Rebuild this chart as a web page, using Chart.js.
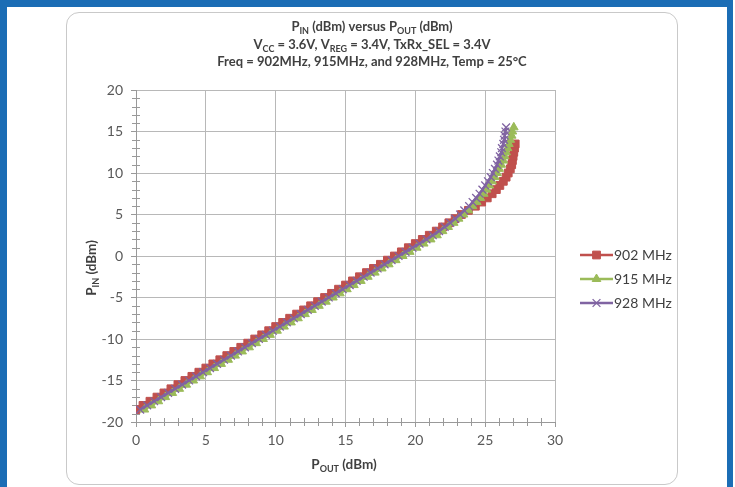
<!DOCTYPE html>
<html>
<head>
<meta charset="utf-8">
<title>PIN versus POUT</title>
<script src="https://cdn.jsdelivr.net/npm/chart.js@4.4.0/dist/chart.umd.min.js"></script>
<style>
  body { margin: 0; background: #fff; }
  .page { position: relative; width: 735px; height: 487px; overflow: hidden; background: #fff; }
  .frame { position: absolute; left: 0; top: 0; width: 720px; height: 500px;
           border-left: 7px solid #1b6db5; border-top: 7px solid #1b6db5; border-right: 6px solid #1b6db5; }
  .card { position: absolute; left: 66px; top: 12px; width: 610px; height: 471px;
          border: 1.5px solid #c9c9c9; border-radius: 13px; }
  canvas { position: absolute; left: 0; top: 0; }
</style>
</head>
<body>
<div class="page">
  <div class="frame"></div>
  <div class="card"></div>
  <canvas id="chart" width="735" height="487"></canvas>
</div>
<script>
// Input power steps (dBm), shared by all three sweeps
const pinValues = [
  -18.5, -18, -17.5, -17, -16.5, -16, -15.5, -15, -14.5, -14,
  -13.5, -13, -12.5, -12, -11.5, -11, -10.5, -10, -9.5, -9,
  -8.5, -8, -7.5, -7, -6.5, -6, -5.5, -5, -4.5, -4,
  -3.5, -3, -2.5, -2, -1.5, -1, -0.5, 0, 0.5, 1,
  1.5, 2, 2.5, 3, 3.5, 4, 4.5, 5, 5.5, 6,
  6.5, 7, 7.5, 8, 8.5, 9, 9.5, 10, 10.5, 11,
  11.5, 12, 12.5, 13, 13.5, 14, 14.5, 15, 15.5
];

// Output power (dBm)
const pout902 = [
  0, 0.5, 1, 1.5, 2, 2.5, 3, 3.5, 4, 4.5,
  5, 5.5, 6, 6.5, 7, 7.5, 8, 8.5, 9, 9.5,
  10, 10.5, 11, 11.5, 12, 12.5, 13, 13.5, 14, 14.5,
  15, 15.5, 16, 16.5, 17, 17.5, 18, 18.5, 19, 19.5,
  20, 20.5, 21.0, 21.5, 21.95, 22.4, 22.85, 23.3, 23.8, 24.3,
  24.75, 25.15, 25.5, 25.8, 26.05, 26.3, 26.5, 26.65, 26.8, 26.9,
  26.95, 27.0, 27.05, 27.1, 27.15
];
const pout915 = [
  0.6, 1.1, 1.6, 2.1, 2.6, 3.1, 3.6, 4.1, 4.6, 5.1,
  5.6, 6.1, 6.6, 7.1, 7.6, 8.1, 8.6, 9.1, 9.6, 10.1,
  10.6, 11.1, 11.6, 12.1, 12.6, 13.1, 13.6, 14.1, 14.6, 15.1,
  15.6, 16.1, 16.6, 17.1, 17.6, 18.1, 18.6, 19.1, 19.6, 20.1,
  20.6, 21.1, 21.55, 21.95, 22.35, 22.75, 23.1, 23.45, 23.8, 24.1,
  24.4, 24.65, 24.9, 25.1, 25.3, 25.5, 25.7, 25.85, 26.0, 26.15,
  26.3, 26.4, 26.5, 26.6, 26.7, 26.8, 26.9, 26.95, 27.05
];
const pout928 = [
  0.3, 0.8, 1.3, 1.8, 2.3, 2.8, 3.3, 3.8, 4.3, 4.8,
  5.3, 5.8, 6.3, 6.8, 7.3, 7.8, 8.3, 8.8, 9.3, 9.8,
  10.3, 10.8, 11.3, 11.8, 12.3, 12.8, 13.3, 13.8, 14.3, 14.8,
  15.3, 15.8, 16.3, 16.8, 17.3, 17.8, 18.3, 18.8, 19.3, 19.8,
  20.3, 20.8, 21.25, 21.7, 22.1, 22.5, 22.85, 23.2, 23.5, 23.85,
  24.1, 24.35, 24.6, 24.8, 25.0, 25.2, 25.4, 25.55, 25.7, 25.85,
  25.95, 26.05, 26.15, 26.2, 26.3, 26.35, 26.4, 26.45, 26.5
];

const seriesLabels = ['902 MHz', '915 MHz', '928 MHz'];
const xRange = [0, 30];
const yRange = [-20, 20];
const majorStep = 5;
const minorStep = 1;

const FONT = 'Lato, "Open Sans", sans-serif';
const TEXT_COLOR = '#404040';
const TICK_COLOR = '#595959';
const AXIS_COLOR = '#999999';

const seriesStyles = [
  { color: '#c0504d', pointStyle: 'rect', radius: 5.5, borderWidth: 1 },
  { color: '#9bbb59', pointStyle: 'triangle', radius: 5, borderWidth: 1 },
  { color: '#8064a2', pointStyle: 'crossRot', radius: 5.5, borderWidth: 1.3 }
];

function toPoints(pout) {
  return pout.map((x, i) => ({ x: x, y: pinValues[i] }));
}

// text with subscripts: runs = [[text, isSub], ...]
function drawRuns(ctx, runs, cx, baseline, size) {
  const main = `bold ${size}px ${FONT}`;
  const sub = `bold ${Math.round(size * 0.7)}px ${FONT}`;
  let width = 0;
  runs.forEach(([t, s]) => { ctx.font = s ? sub : main; width += ctx.measureText(t).width; });
  let x = cx - width / 2;
  ctx.textAlign = 'left';
  ctx.textBaseline = 'alphabetic';
  runs.forEach(([t, s]) => {
    ctx.font = s ? sub : main;
    ctx.fillText(t, x, baseline + (s ? 3 : 0));
    x += ctx.measureText(t).width;
  });
}

const minorTicks = {
  id: 'minorTicks',
  beforeDatasetsDraw(chart) {
    const { ctx, scales: { x, y } } = chart;
    ctx.save();
    ctx.strokeStyle = AXIS_COLOR;
    ctx.lineWidth = 1;
    for (let v = yRange[0]; v <= yRange[1]; v += minorStep) {
      if (v % majorStep === 0) continue;
      const py = Math.round(y.getPixelForValue(v)) + 0.5;
      ctx.beginPath();
      ctx.moveTo(x.left - 4, py);
      ctx.lineTo(x.left + 4, py);
      ctx.stroke();
    }
    for (let v = xRange[0]; v <= xRange[1]; v += minorStep) {
      if (v % majorStep === 0) continue;
      const px = Math.round(x.getPixelForValue(v)) + 0.5;
      ctx.beginPath();
      ctx.moveTo(px, y.bottom - 4);
      ctx.lineTo(px, y.bottom + 4);
      ctx.stroke();
    }
    ctx.restore();
  }
};

const titlesAndLegend = {
  id: 'titlesAndLegend',
  afterDraw(chart) {
    const ctx = chart.ctx;
    const { x, y } = chart.scales;
    ctx.save();
    ctx.fillStyle = TEXT_COLOR;

    // chart title
    const cx = 372;
    drawRuns(ctx, [['P', false], ['IN', true], [' (dBm) versus P', false], ['OUT', true], [' (dBm)', false]], cx, 31, 13);
    drawRuns(ctx, [['V', false], ['CC', true], [' = 3.6V, V', false], ['REG', true], [' = 3.4V, TxRx_SEL = 3.4V', false]], cx, 49, 13);
    drawRuns(ctx, [['Freq = 902MHz, 915MHz, and 928MHz, Temp = 25°C', false]], cx, 66, 13);

    // axis titles
    drawRuns(ctx, [['P', false], ['OUT', true], [' (dBm)', false]], 344, 469, 13.5);
    ctx.save();
    ctx.translate(96, 268);
    ctx.rotate(-Math.PI / 2);
    drawRuns(ctx, [['P', false], ['IN', true], [' (dBm)', false]], 0, 0, 13.5);
    ctx.restore();

    // legend
    const legendTop = 255;
    seriesLabels.forEach((label, i) => {
      const st = seriesStyles[i];
      const ly = legendTop + i * 24;
      ctx.strokeStyle = st.color;
      ctx.lineWidth = 2.5;
      ctx.beginPath();
      ctx.moveTo(580, ly);
      ctx.lineTo(613, ly);
      ctx.stroke();
      ctx.fillStyle = st.color;
      ctx.lineWidth = st.borderWidth;
      Chart.helpers.drawPoint(ctx, { pointStyle: st.pointStyle, radius: st.radius, rotation: 0, borderWidth: st.borderWidth }, 596.5, ly);
      ctx.fillStyle = TEXT_COLOR;
      ctx.font = `14px ${FONT}`;
      ctx.textAlign = 'left';
      ctx.textBaseline = 'middle';
      ctx.fillText(label, 614, ly);
    });
    ctx.restore();
  }
};

const allPout = [pout902, pout915, pout928];

new Chart(document.getElementById('chart'), {
  type: 'scatter',
  data: {
    datasets: seriesLabels.map((label, i) => ({
      label: label,
      data: toPoints(allPout[i]),
      showLine: true,
      tension: 0,
      borderColor: seriesStyles[i].color,
      backgroundColor: seriesStyles[i].color,
      borderWidth: 2.5,
      pointStyle: seriesStyles[i].pointStyle,
      pointRadius: seriesStyles[i].radius,
      pointBorderColor: seriesStyles[i].color,
      pointBackgroundColor: seriesStyles[i].color,
      pointBorderWidth: seriesStyles[i].borderWidth,
      order: 3 - i
    }))
  },
  options: {
    responsive: false,
    animation: false,
    layout: { padding: { left: 76, top: 90, right: 180, bottom: 25 } },
    plugins: {
      legend: { display: false },
      tooltip: { enabled: false }
    },
    scales: {
      x: {
        type: 'linear',
        min: xRange[0],
        max: xRange[1],
        ticks: { stepSize: majorStep, color: TICK_COLOR, font: { family: FONT, size: 14 }, padding: 5 },
        grid: { color: '#b8b8b8', tickLength: 5, tickColor: AXIS_COLOR },
        border: { color: AXIS_COLOR },
        afterFit: s => { s.height = 40; }
      },
      y: {
        type: 'linear',
        min: yRange[0],
        max: yRange[1],
        ticks: { stepSize: majorStep, color: TICK_COLOR, font: { family: FONT, size: 14 }, padding: 8 },
        grid: { color: '#b8b8b8', tickLength: 5, tickColor: AXIS_COLOR },
        border: { color: AXIS_COLOR },
        afterFit: s => { s.width = 60; }
      }
    }
  },
  plugins: [minorTicks, titlesAndLegend]
});
</script>
</body>
</html>
